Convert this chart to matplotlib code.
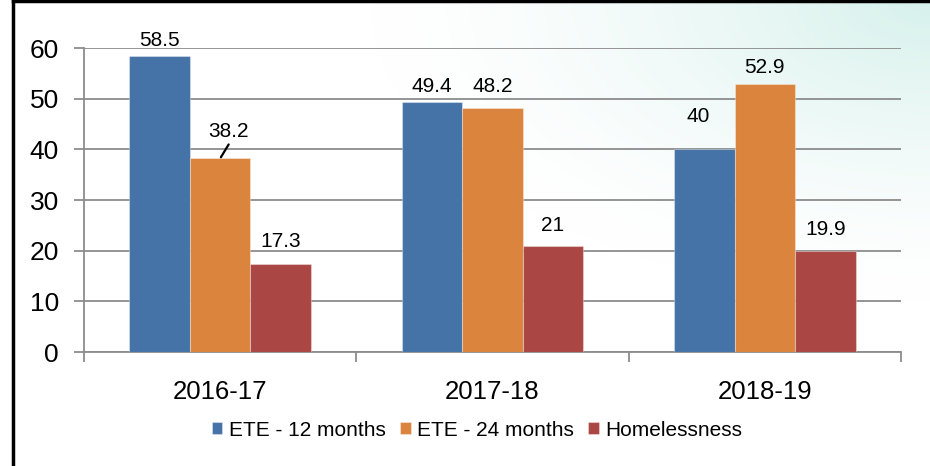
import numpy as np
import matplotlib.pyplot as plt
from matplotlib.lines import Line2D

plt.rcParams['font.family'] = ['Liberation Sans', 'DejaVu Sans']

categories = ['2016-17', '2017-18', '2018-19']
series_names = ['ETE - 12 months', 'ETE - 24 months', 'Homelessness']
ete_12 = [58.5, 49.4, 40]
ete_24 = [38.2, 48.2, 52.9]
homeless = [17.3, 21, 19.9]
colors = ['#4572a7', '#db843d', '#aa4643']

# label nudges in pixels (dx, dy above bar top), as placed in the original
label_offsets = [
    [(0, 10), (0, 10), (-6, 27)],
    [(8, 21), (0, 16), (0, 11)],
    [(0, 17), (0, 15), (0, 16)],
]

fig = plt.figure(figsize=(9.3, 4.66), dpi=100)

# soft teal wash in the top right corner
bg = fig.add_axes([0, 0, 1, 1], zorder=-10)
h, w = 466, 930
yy, xx = np.mgrid[0:h, 0:w]
d = np.sqrt(((w - xx) / 560.0) ** 2 + (yy / 300.0) ** 2)
t = np.clip(1 - d, 0, 1) ** 1.5
c0 = np.array([1.0, 1.0, 1.0])
c1 = np.array([0.84, 0.945, 0.925])
img = c0[None, None, :] * (1 - t[..., None]) + c1[None, None, :] * t[..., None]
bg.imshow(img, aspect='auto', extent=[0, 1, 0, 1], origin='upper')
bg.axis('off')

# black frame at left and top
fig.add_artist(Line2D([12.5 / w, 12.5 / w], [0, 1], color='black', lw=2.5, transform=fig.transFigure))
fig.add_artist(Line2D([12.5 / w, 1], [1 - 1.2 / h, 1 - 1.2 / h], color='black', lw=2.5, transform=fig.transFigure))

ax = fig.add_axes([84 / w, 1 - 352 / h, (901 - 84) / w, (352 - 48) / h])
ax.set_facecolor('none')

x = np.arange(len(categories))
bw = 1 / 4.5
data = [ete_12, ete_24, homeless]
for i, (vals, name, col) in enumerate(zip(data, series_names, colors)):
    pos = x + (i - 1) * bw
    ax.bar(pos, vals, width=bw, color=col, label=name, zorder=3,
           edgecolor=(1, 1, 1, 0.35), linewidth=0.8)
    for j, v in enumerate(vals):
        dx, dy = label_offsets[i][j]
        ax.annotate(f'{v:g}', xy=(pos[j], v), xytext=(dx, dy),
                    textcoords='offset pixels', ha='center', va='baseline',
                    fontsize=15, color='black', zorder=5)
        if v == 38.2:
            ax.annotate('', xy=(pos[j], v), xytext=(8.5, 14),
                        textcoords='offset pixels',
                        arrowprops=dict(arrowstyle='-', lw=1.6, color='black',
                                        shrinkA=0, shrinkB=1))

ax.set_xlim(-0.5, 2.5)
ax.set_ylim(0, 60)
ax.set_yticks(range(0, 61, 10))
ax.yaxis.grid(True, color='#8c8c8c', lw=1.3, zorder=0)
ax.set_axisbelow(True)

ax.set_xticks([-0.5, 0.5, 1.5, 2.5])
ax.set_xticklabels([])
ax.set_xticks(x, minor=True)
ax.set_xticklabels(categories, minor=True, fontsize=18.5)
ax.tick_params(axis='x', which='minor', length=0, pad=20)
ax.tick_params(axis='x', which='major', length=7, width=1.3, color='#8c8c8c', direction='out')
ax.tick_params(axis='y', length=7, width=1.3, color='#8c8c8c', labelsize=19, pad=11)

for s in ['top', 'right']:
    ax.spines[s].set_visible(False)
for s in ['left', 'bottom']:
    ax.spines[s].set_color('#8c8c8c')
    ax.spines[s].set_linewidth(1.3)

fig.legend(loc='center', bbox_to_anchor=(477 / w, 1 - 430 / h), ncol=3,
           frameon=False, fontsize=15, handlelength=0.5, handleheight=0.5,
           handletextpad=0.3, columnspacing=0.7)

fig.savefig('out.png', dpi=100)
